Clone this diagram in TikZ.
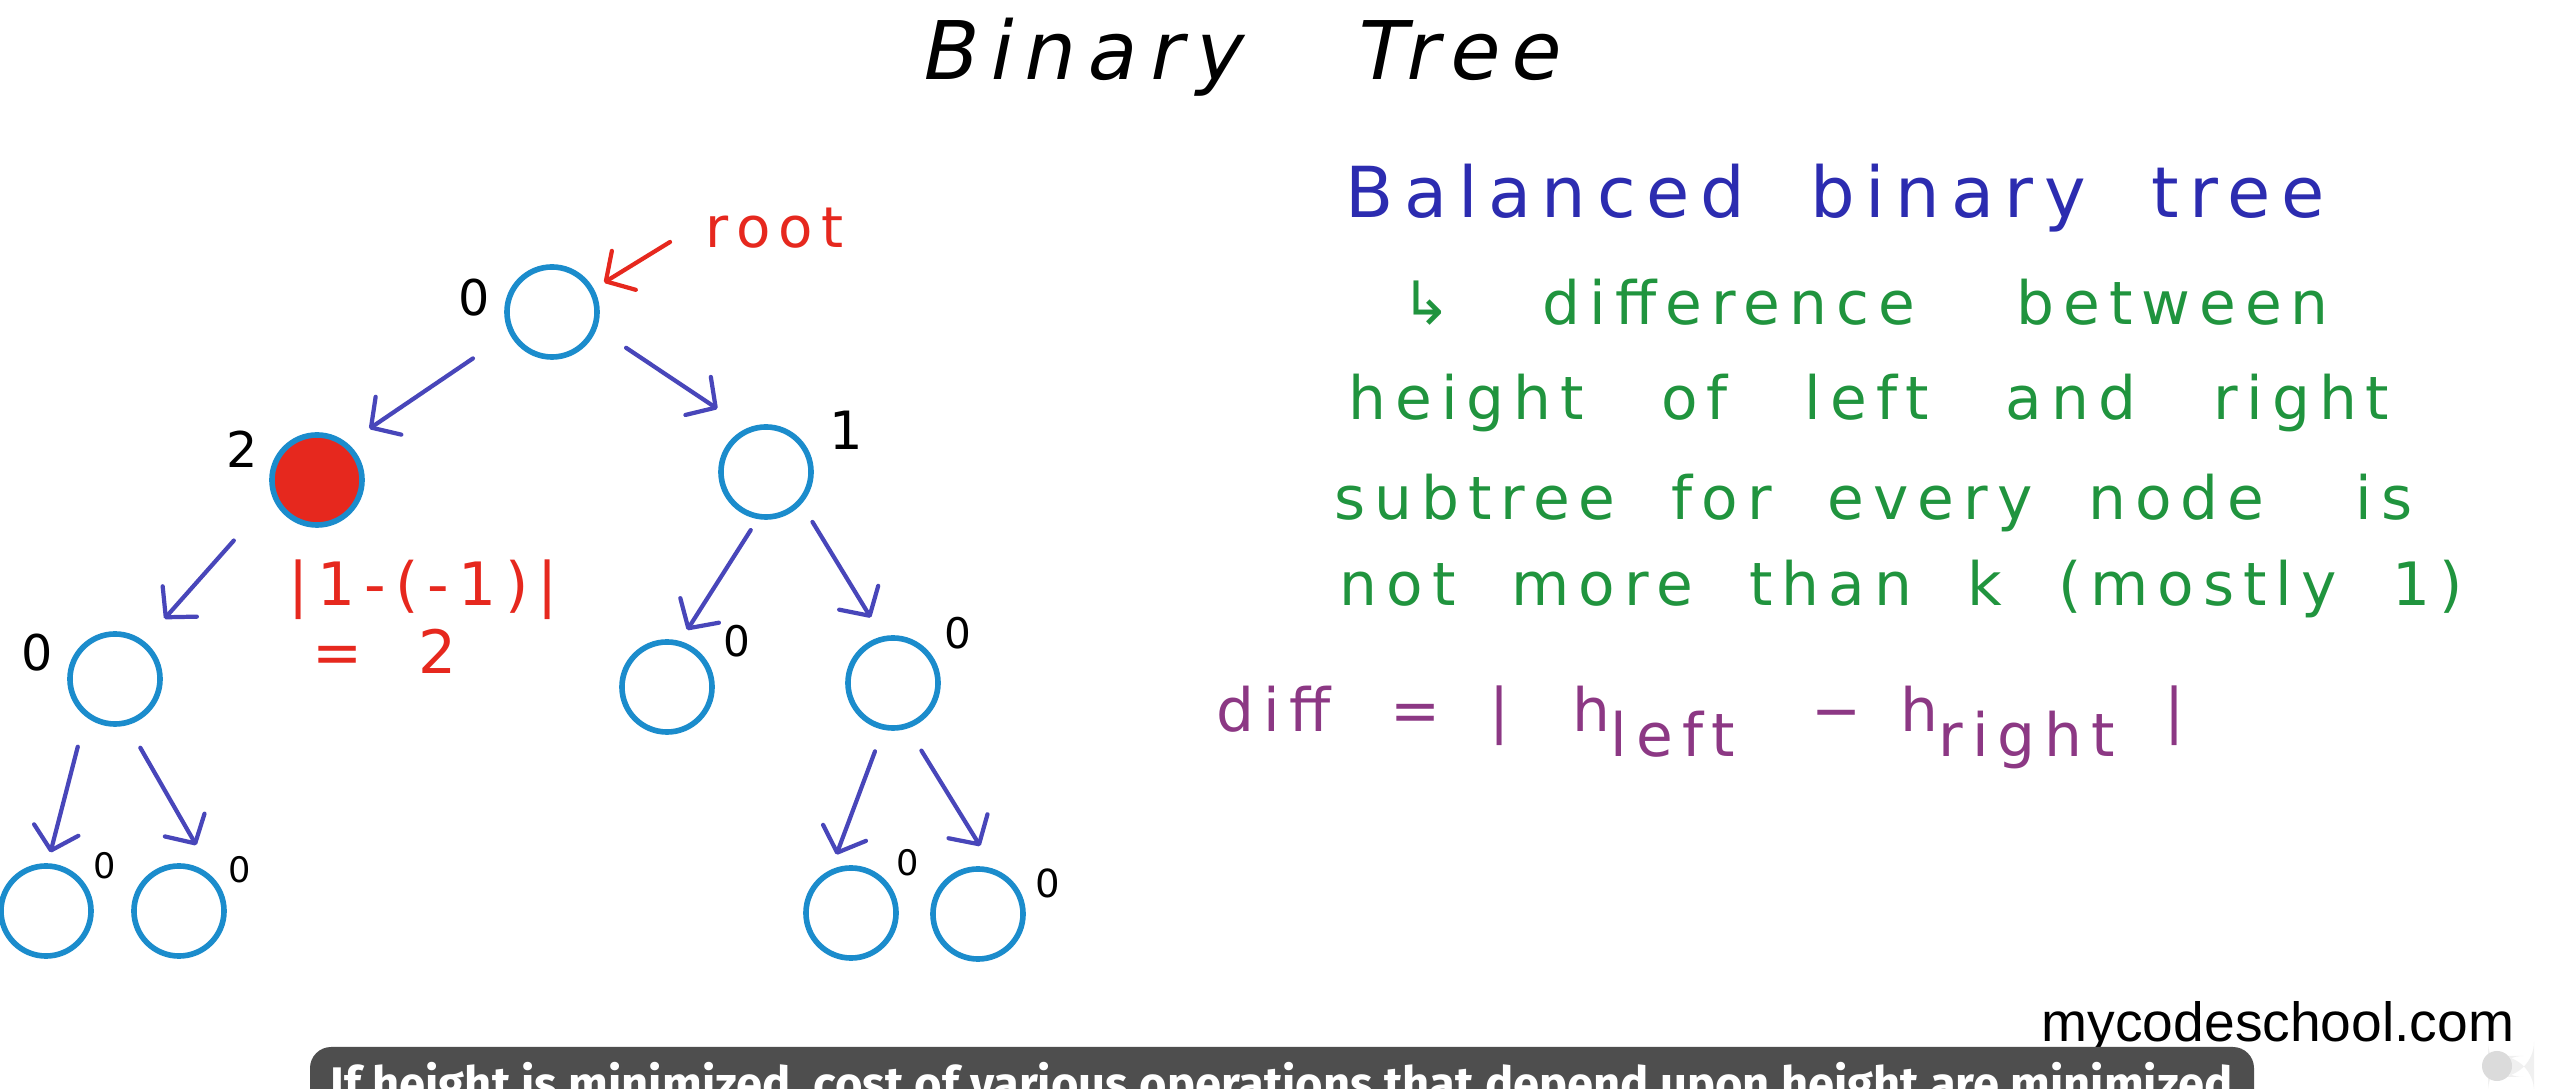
\documentclass[tikz,border=0pt]{standalone}
\usepackage{fontspec}
\setmainfont{DejaVu Sans}
\newfontfamily\handfont[LetterSpace=15,WordSpace=2]{DejaVu Sans}
\newfontfamily\slantfont[FakeSlant=0.2,LetterSpace=15,WordSpace=3]{DejaVu Sans}
\newfontfamily\logofont{Liberation Sans}
\newfontfamily\capfont{Fira Sans}
\usetikzlibrary{arrows.meta, positioning}

\definecolor{ringblue}{RGB}{27,140,204}
\definecolor{arrowblue}{RGB}{72,70,186}
\definecolor{inkred}{RGB}{230,40,30}
\definecolor{inkblue}{RGB}{44,44,176}
\definecolor{inkgreen}{RGB}{32,148,62}
\definecolor{inkpurple}{RGB}{140,56,132}
\definecolor{capgray}{RGB}{78,78,78}

\newcommand{\subtxt}[1]{\raisebox{-7pt}{#1}}

\tikzset{
  tnode/.style={circle, draw=ringblue, line width=1.6pt, minimum size=0.9cm, inner sep=0pt},
  badnode/.style={tnode, fill=inkred},
  edge/.style={draw=arrowblue, line width=1.2pt, line cap=round, -{Straight Barb[length=6pt,width=13pt,round]}},
  ptr/.style={edge, draw=inkred},
  hnum/.style={inner sep=0pt, font=\handfont\fontsize{#1}{#1}\selectfont},
  hnum/.default=12,
  handtxt/.style={inner sep=0pt, anchor=base west, font=\handfont\fontsize{#1}{#1}\selectfont},
  handtxt/.default=17
}

\begin{document}
\begin{tikzpicture}[x=0.01cm,y=-0.01cm]
  % sfondo
  \fill[white] (0,0) rectangle (2560,1089);
  \useasboundingbox (0,0) rectangle (2560,1089);

  % titolo
  \node[inner sep=0pt, anchor=base west, font=\slantfont\fontsize{23}{23}\selectfont] (title) at (918,80) {Binary Tree};

  % albero
  \node[tnode] (nroot) at (552,312) {};
  \node[badnode] (nL) at (317,480) {};
  \node[tnode] (nR) at (766,472) {};
  \node[tnode] (nLL) at (115,679) {};
  \node[tnode] (nRL) at (667,687) {};
  \node[tnode] (nRR) at (893,683) {};
  \node[tnode] (nLLL) at (46,911) {};
  \node[tnode] (nLLR) at (179,911) {};
  \node[tnode] (nRRL) at (851,913) {};
  \node[tnode] (nRRR) at (978,914) {};

  % altezze
  \node[hnum=14] (hroot) at (474,298) {0};
  \node[hnum=14] (hL) at (242,449) {2};
  \node[hnum=15] (hR) at (846,430) {1};
  \node[hnum=14] (hLL) at (37,653) {0};
  \node[hnum] (hRL) at (737,641) {0};
  \node[hnum] (hRR) at (958,633) {0};
  \node[hnum=10] (hLLL) at (105,866) {0};
  \node[hnum=10] (hLLR) at (240,870) {0};
  \node[hnum=10] (hRRL) at (908,863) {0};
  \node[hnum=11] (hRRR) at (1048,883) {0};

  % frecce
  \draw[edge, shorten <=0.44cm, shorten >=0.26cm] (nroot.207) -- (nL.50);
  \draw[edge, shorten <=0.35cm, shorten >=0.35cm] (nroot.-20) -- (nR.114);
  \draw[edge, shorten <=0.58cm, shorten >=0.30cm] (nL.201) -- (nLL.52);
  \draw[edge, shorten <=0.13cm, shorten >=0.13cm] (nR.260) -- (nRL.74);
  \draw[edge, shorten <=0.21cm, shorten >=0.22cm] (nR.-42) -- (nRR.103);
  \draw[edge, shorten <=0.31cm, shorten >=0.11cm] (nLL.232) -- (nLLL.88);
  \draw[edge, shorten <=0.26cm, shorten >=0.45cm] (nLL.-75) -- (nLLR.34);
  \draw[edge, shorten <=0.23cm, shorten >=0.16cm] (nRR.258) -- (nRRL.115);
  \draw[edge, shorten <=0.26cm, shorten >=0.27cm] (nRR.-72) -- (nRRR.70);

  % radice
  \node[handtxt=16, text=inkred] (rootlbl) at (705,248) {root};
  \coordinate (rootptr) at (670,242);
  \draw[ptr, shorten >=0.12cm] (rootptr) -- (nroot.29);

  % sbilanciamento
  \node[handtxt, text=inkred] (absdiff) at (288,606) {|1-(-1)|};
  \node[handtxt, text=inkred] (absval) at (312,674) {= 2};

  % definizione
  \node[handtxt=20, text=inkblue] (defhead) at (1345,218) {Balanced binary tree};
  \node[handtxt, text=inkgreen] (def1) at (1401,325) {↳\hspace{10pt} difference\hspace{13pt} between};
  \node[handtxt, text=inkgreen] (def2) at (1348,420) {height\hspace{6pt} of\hspace{6pt} left\hspace{6pt} and\hspace{6pt} right};
  \node[handtxt, text=inkgreen] (def3) at (1334,520) {subtree for every node\hspace{10pt} is};
  \node[handtxt, text=inkgreen] (def4) at (1339,606) {not more than k (mostly 1)};

  % formula
  \node[handtxt, text=inkpurple] (diffeq) at (1216,732) {diff\hspace{17pt}=\hspace{14pt}|\hspace{18pt}h\subtxt{left}\hspace{22pt}−\hspace{11pt}h\subtxt{right}\hspace{14pt}|};

  % logo e sottotitolo
  \node[inner sep=0pt, anchor=base west, font=\logofont\fontsize{15.7}{16}\selectfont] (logo) at (2041,1042) {mycodeschool.com};
  \fill[capgray, rounded corners=6pt] (310,1047) rectangle (2254,1130);
  \node[inner sep=0pt, anchor=base west, text=white, font=\capfont\bfseries\fontsize{13.4}{14}\selectfont] (caption) at (330,1101) {If height is minimized, cost of various operations that depend upon height are minimized};
  \fill[gray!12, rounded corners=10pt] (2488,1056) rectangle (2534,1077);
  \fill[gray!28] (2497,1066) circle (0.15cm);
\end{tikzpicture}
\end{document}
